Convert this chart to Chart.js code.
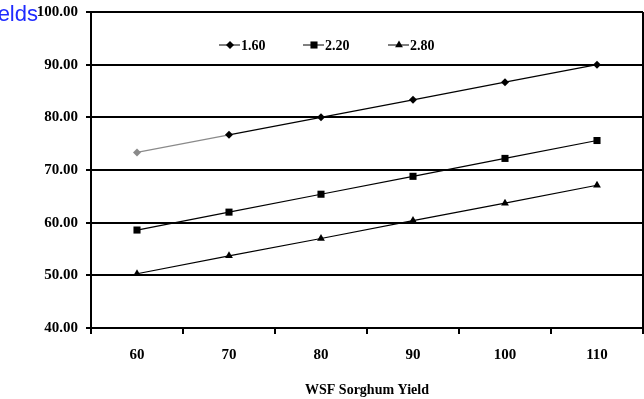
<!DOCTYPE html>
<html>
<head>
<meta charset="utf-8">
<script src="https://cdn.jsdelivr.net/npm/chart.js@4.4.0/dist/chart.umd.min.js"></script>
<style>
  body { margin: 0; background: #fff; overflow: hidden; }
  #wrap { position: relative; width: 644px; height: 399px; }
  #cut-title { position: absolute; right: 606px; top: 1px; font: 22px "Liberation Sans", Arial, sans-serif; color: #1f2bff; white-space: nowrap; }
</style>
</head>
<body>
<div id="wrap">
  <canvas id="chart" width="644" height="399"></canvas>
  <div id="cut-title">Yields</div>
</div>
<script>
// dados
var categories = ['60', '70', '80', '90', '100', '110'];
var seriesNames = ['1.60', '2.20', '2.80'];
var series160 = [73.33, 76.67, 80.00, 83.33, 86.67, 90.00];
var series220 = [58.6, 62.0, 65.4, 68.8, 72.2, 75.6];
var series280 = [50.3, 53.7, 57.0, 60.4, 63.7, 67.1];
var yTicks = [40, 50, 60, 70, 80, 90, 100];

var serif = '"Liberation Serif", "Times New Roman", serif';

// legenda desenhada a mao: linha + marcador + texto
var lineLegend = {
    id: 'lineLegend',
    afterDraw: function (chart, args, opts) {
        var ctx = chart.ctx;
        ctx.save();
        chart.data.datasets.forEach(function (ds, i) {
            var x = opts.xs[i];
            var y = opts.y;
            ctx.strokeStyle = '#000';
            ctx.lineWidth = 1;
            ctx.beginPath();
            ctx.moveTo(x, y);
            ctx.lineTo(x + 21, y);
            ctx.stroke();
            ctx.fillStyle = '#000';
            Chart.helpers.drawPoint(ctx, {
                pointStyle: ds.pointStyle,
                radius: ds.pointRadius,
                borderWidth: 0
            }, x + 11, y);
            ctx.font = 'bold 14px ' + serif;
            ctx.textBaseline = 'middle';
            ctx.fillText(ds.label, x + 22, y + 1);
        });
        ctx.restore();
    }
};

// borda da area do grafico
var frame = {
    id: 'frame',
    beforeDatasetsDraw: function (chart) {
        var a = chart.chartArea;
        var ctx = chart.ctx;
        ctx.save();
        ctx.strokeStyle = '#000';
        ctx.lineWidth = 2;
        ctx.beginPath();
        ctx.moveTo(a.right, a.top);
        ctx.lineTo(a.right, a.bottom);
        ctx.stroke();
        ctx.restore();
    }
};

var firstGrey = series160.map(function (v, i) { return i === 0 ? '#8a8a8a' : '#000'; });

var ctx = document.getElementById('chart').getContext('2d');
var chart = new Chart(ctx, {
    type: 'line',
    data: {
        labels: categories,
        datasets: [{
            label: seriesNames[0],
            data: series160,
            borderColor: '#000',
            borderWidth: 1.2,
            pointStyle: 'rectRot',
            pointRadius: 4,
            pointBackgroundColor: firstGrey,
            pointBorderColor: firstGrey,
            pointBorderWidth: 0,
            segment: {
                borderColor: function (c) { return c.p0DataIndex === 0 ? '#8a8a8a' : '#000'; }
            }
        }, {
            label: seriesNames[1],
            data: series220,
            borderColor: '#000',
            borderWidth: 1.2,
            pointStyle: 'rect',
            pointRadius: 5,
            pointBackgroundColor: '#000',
            pointBorderWidth: 0
        }, {
            label: seriesNames[2],
            data: series280,
            borderColor: '#000',
            borderWidth: 1.2,
            pointStyle: 'triangle',
            pointRadius: 4.5,
            pointBackgroundColor: '#000',
            pointBorderWidth: 0
        }]
    },
    options: {
        responsive: false,
        animation: false,
        layout: { autoPadding: false, padding: { top: 12, right: 1, bottom: 0, left: 0 } },
        plugins: {
            legend: { display: false },
            tooltip: { enabled: false },
            lineLegend: { xs: [219, 303, 388], y: 45 }
        },
        scales: {
            x: {
                offset: true,
                afterFit: function (s) { s.height = 71; s.paddingLeft = 0; s.paddingRight = 0; },
                grid: {
                    offset: true,
                    drawOnChartArea: false,
                    tickLength: 6,
                    color: '#000',
                    lineWidth: 2
                },
                border: { color: '#000', width: 2 },
                ticks: {
                    color: '#000',
                    padding: 12,
                    font: { family: serif, size: 15, weight: 'bold' }
                },
                title: {
                    display: true,
                    text: 'WSF Sorghum Yield',
                    color: '#000',
                    padding: { top: 0, bottom: 0 },
                    font: { family: serif, size: 14, weight: 'bold' }
                }
            },
            y: {
                min: yTicks[0],
                max: yTicks[yTicks.length - 1],
                afterFit: function (s) { s.width = 91; s.paddingTop = 0; s.paddingBottom = 0; },
                afterBuildTicks: function (s) {
                    s.ticks = yTicks.map(function (v) { return { value: v }; });
                },
                grid: {
                    color: '#000',
                    lineWidth: 2,
                    tickLength: 5
                },
                border: { color: '#000', width: 2 },
                ticks: {
                    color: '#000',
                    padding: 8,
                    font: { family: serif, size: 15, weight: 'bold' },
                    callback: function (v) { return Number(v).toFixed(2); }
                }
            }
        }
    },
    plugins: [lineLegend, frame]
});
</script>
</body>
</html>
